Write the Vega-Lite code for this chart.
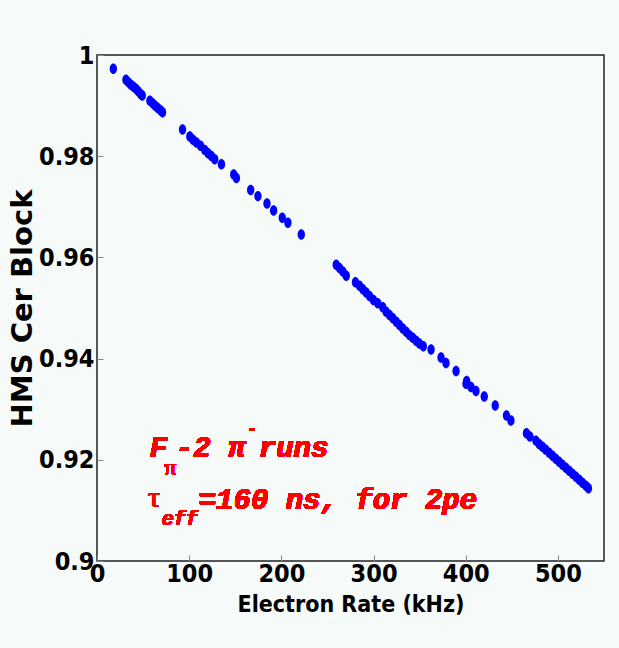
{
  "$schema": "https://vega.github.io/schema/vega-lite/v6.json",
  "width": 507,
  "height": 506,
  "autosize": "none",
  "padding": {"left": 97, "top": 55, "right": 15, "bottom": 87},
  "background": "#f6faf8",
  "config": {
    "view": {"stroke": "#222222", "strokeWidth": 1.5, "fill": "#f6faf8"},
    "axis": {
      "domain": false,
      "grid": false,
      "tickColor": "#888888",
      "tickSize": -6,
      "tickWidth": 1,
      "labelFont": "DejaVu Sans Condensed, Liberation Sans, sans-serif",
      "labelFontWeight": "bold",
      "labelFontSize": 25,
      "labelColor": "#000000",
      "titleColor": "#000000",
      "titleFontWeight": "bold"
    }
  },
  "data": {
    "values": [
      {"rate": 17.7, "eff": 0.99728},
      {"rate": 31.4, "eff": 0.99509},
      {"rate": 33.9, "eff": 0.99464},
      {"rate": 36.5, "eff": 0.99416},
      {"rate": 39.3, "eff": 0.99376},
      {"rate": 42.2, "eff": 0.99331},
      {"rate": 44.7, "eff": 0.99285},
      {"rate": 47.3, "eff": 0.99231},
      {"rate": 49.1, "eff": 0.99198},
      {"rate": 57.4, "eff": 0.99098},
      {"rate": 60.3, "eff": 0.99047},
      {"rate": 63.1, "eff": 0.98999},
      {"rate": 66.0, "eff": 0.98953},
      {"rate": 68.9, "eff": 0.98908},
      {"rate": 71.1, "eff": 0.98868},
      {"rate": 92.8, "eff": 0.9853},
      {"rate": 100.7, "eff": 0.98391},
      {"rate": 104.2, "eff": 0.98324},
      {"rate": 107.9, "eff": 0.98272},
      {"rate": 112.3, "eff": 0.98205},
      {"rate": 116.9, "eff": 0.98125},
      {"rate": 120.5, "eff": 0.9806},
      {"rate": 124.1, "eff": 0.98006},
      {"rate": 127.7, "eff": 0.9794},
      {"rate": 135.0, "eff": 0.97841},
      {"rate": 148.3, "eff": 0.97637},
      {"rate": 151.2, "eff": 0.97569},
      {"rate": 166.7, "eff": 0.97331},
      {"rate": 174.6, "eff": 0.97211},
      {"rate": 184.4, "eff": 0.97067},
      {"rate": 191.6, "eff": 0.96927},
      {"rate": 201.0, "eff": 0.96782},
      {"rate": 207.1, "eff": 0.96683},
      {"rate": 221.6, "eff": 0.96451},
      {"rate": 259.5, "eff": 0.95855},
      {"rate": 263.1, "eff": 0.95789},
      {"rate": 266.7, "eff": 0.95722},
      {"rate": 270.4, "eff": 0.95637},
      {"rate": 280.4, "eff": 0.95511},
      {"rate": 284.8, "eff": 0.95438},
      {"rate": 288.4, "eff": 0.95372},
      {"rate": 292.0, "eff": 0.95305},
      {"rate": 295.6, "eff": 0.95239},
      {"rate": 299.9, "eff": 0.9516},
      {"rate": 304.6, "eff": 0.95094},
      {"rate": 310.0, "eff": 0.95015},
      {"rate": 313.7, "eff": 0.94928},
      {"rate": 317.3, "eff": 0.94862},
      {"rate": 320.9, "eff": 0.94796},
      {"rate": 324.6, "eff": 0.94729},
      {"rate": 328.1, "eff": 0.94663},
      {"rate": 331.7, "eff": 0.94596},
      {"rate": 335.4, "eff": 0.9453},
      {"rate": 338.9, "eff": 0.94464},
      {"rate": 342.5, "eff": 0.94411},
      {"rate": 346.2, "eff": 0.94351},
      {"rate": 349.7, "eff": 0.943},
      {"rate": 354.0, "eff": 0.94246},
      {"rate": 362.4, "eff": 0.94181},
      {"rate": 373.2, "eff": 0.94022},
      {"rate": 378.6, "eff": 0.93915},
      {"rate": 389.5, "eff": 0.93756},
      {"rate": 400.3, "eff": 0.93505},
      {"rate": 401.0, "eff": 0.93557},
      {"rate": 405.7, "eff": 0.93438},
      {"rate": 411.1, "eff": 0.93359},
      {"rate": 420.1, "eff": 0.93253},
      {"rate": 432.0, "eff": 0.93074},
      {"rate": 444.2, "eff": 0.92876},
      {"rate": 449.0, "eff": 0.92776},
      {"rate": 465.9, "eff": 0.92524},
      {"rate": 469.6, "eff": 0.92459},
      {"rate": 476.1, "eff": 0.92379},
      {"rate": 479.6, "eff": 0.92314},
      {"rate": 483.2, "eff": 0.9226},
      {"rate": 486.8, "eff": 0.92201},
      {"rate": 490.5, "eff": 0.92141},
      {"rate": 494.1, "eff": 0.92082},
      {"rate": 497.7, "eff": 0.92022},
      {"rate": 501.3, "eff": 0.91962},
      {"rate": 504.9, "eff": 0.91903},
      {"rate": 508.6, "eff": 0.91843},
      {"rate": 512.2, "eff": 0.91784},
      {"rate": 515.8, "eff": 0.91724},
      {"rate": 519.5, "eff": 0.91664},
      {"rate": 523.1, "eff": 0.91605},
      {"rate": 526.6, "eff": 0.91545},
      {"rate": 530.3, "eff": 0.91485},
      {"rate": 533.1, "eff": 0.9144}
    ]
  },
  "layer": [
    {
      "mark": {"type": "point", "filled": true, "opacity": 1, "color": "#0000ff", "size": 110, "shape": "M0,-1A0.7,1,0,1,1,0,1A0.7,1,0,1,1,0,-1Z"},
      "encoding": {
        "x": {"field": "rate", "type": "quantitative", "scale": {"domain": [0, 550], "nice": false, "zero": false},
              "axis": {"values": [0, 100, 200, 300, 400, 500], "title": "Electron Rate (kHz)", "labelFlush": false, "labelPadding": 6,
                       "titleFont": "DejaVu Sans Condensed, Liberation Sans, sans-serif", "titleFontSize": 23, "titlePadding": 7}},
        "y": {"field": "eff", "type": "quantitative", "scale": {"domain": [0.9, 1.0], "nice": false, "zero": false},
              "axis": {"values": [0.9, 0.92, 0.94, 0.96, 0.98, 1.0], "title": "HMS Cer Block", "labelPadding": 9,
                       "labelExpr": "datum.value == 1 ? '1' : datum.value == 0.9 ? '0.9' : format(datum.value, '.2f')",
                       "titleFont": "DejaVu Sans", "titleFontSize": 29, "titlePadding": 1}}
      }
    },
    {
      "mark": {"type": "text", "text": "F", "color": "#ff0000", "font": "Liberation Mono", "fontSize": 29, "fontWeight": "bold", "fontStyle": "italic", "align": "left", "baseline": "alphabetic"},
      "encoding": {"x": {"datum": 57.2}, "y": {"datum": 0.92061}}
    },
    {
      "mark": {"type": "text", "text": "π", "color": "#ff0000", "font": "Liberation Serif", "fontSize": 24, "fontWeight": "normal", "align": "left", "baseline": "alphabetic"},
      "encoding": {"x": {"datum": 73.0}, "y": {"datum": 0.91705}}
    },
    {
      "mark": {"type": "text", "text": "-2 π", "color": "#ff0000", "font": "Liberation Mono", "fontSize": 29, "fontWeight": "bold", "fontStyle": "italic", "align": "left", "baseline": "alphabetic"},
      "encoding": {"x": {"datum": 85.4}, "y": {"datum": 0.92061}}
    },
    {
      "mark": {"type": "text", "text": "-", "color": "#ff0000", "font": "Liberation Sans", "fontSize": 20, "fontWeight": "bold", "align": "left", "baseline": "alphabetic"},
      "encoding": {"x": {"datum": 164.6}, "y": {"datum": 0.9249}}
    },
    {
      "mark": {"type": "text", "text": "runs", "color": "#ff0000", "font": "Liberation Mono", "fontSize": 29, "fontWeight": "bold", "fontStyle": "italic", "align": "left", "baseline": "alphabetic"},
      "encoding": {"x": {"datum": 175.5}, "y": {"datum": 0.92061}}
    },
    {
      "mark": {"type": "text", "text": "τ", "color": "#ff0000", "font": "Liberation Serif", "fontSize": 30, "fontWeight": "normal", "align": "left", "baseline": "alphabetic"},
      "encoding": {"x": {"datum": 55.0}, "y": {"datum": 0.91068}}
    },
    {
      "mark": {"type": "text", "text": "eff", "color": "#ff0000", "font": "Liberation Mono", "fontSize": 20, "fontWeight": "bold", "fontStyle": "italic", "align": "left", "baseline": "alphabetic"},
      "encoding": {"x": {"datum": 70.2}, "y": {"datum": 0.90712}}
    },
    {
      "mark": {"type": "text", "text": "=160 ns, for 2pe", "color": "#ff0000", "font": "Liberation Mono", "fontSize": 29, "fontWeight": "bold", "fontStyle": "italic", "align": "left", "baseline": "alphabetic"},
      "encoding": {"x": {"datum": 110.3}, "y": {"datum": 0.91028}}
    }
  ]
}
